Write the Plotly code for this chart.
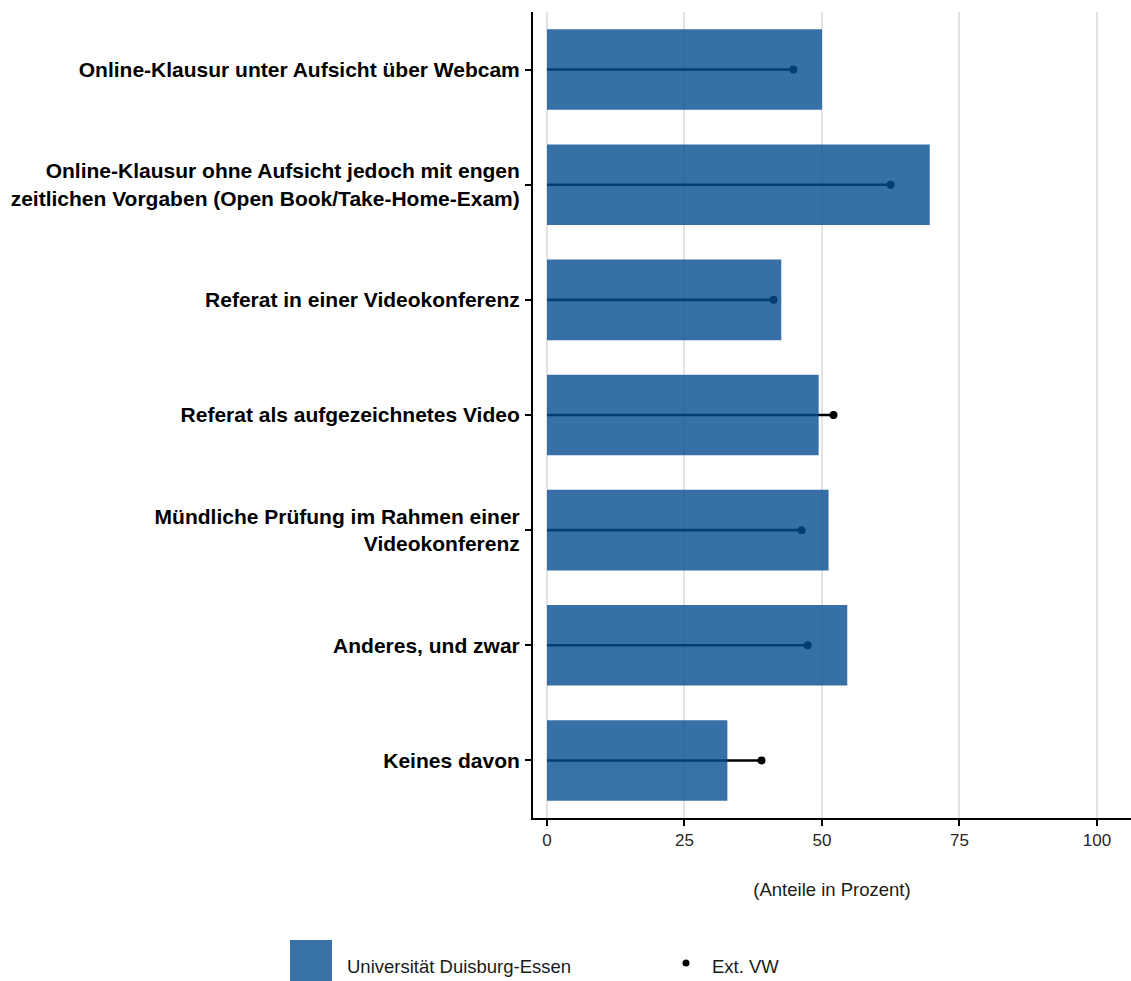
import plotly.graph_objects as go

categories = [
    "Online-Klausur unter Aufsicht über Webcam",
    "Online-Klausur ohne Aufsicht jedoch mit engen<br>zeitlichen Vorgaben (Open Book/Take-Home-Exam)",
    "Referat in einer Videokonferenz",
    "Referat als aufgezeichnetes Video",
    "Mündliche Prüfung im Rahmen einer<br>Videokonferenz",
    "Anderes, und zwar",
    "Keines davon",
]
ude_values = [50.0, 69.6, 42.6, 49.4, 51.2, 54.6, 32.8]
ext_values = [44.8, 62.5, 41.2, 52.1, 46.3, 47.4, 39.0]
x_ticks = [0, 25, 50, 75, 100]

W, H = 1131, 981
PL, PR, PT, PB = 533, 1131, 12, 818  # plot area in page pixels
ML, MT, MR, MB = PL, PT, W - PR, H - PB
plot_h = PB - PT
plot_w = PR - PL

def py(p):
    return (PB - p) / plot_h

def pxx(p):
    return (p - PL) / plot_w

lx, ly = [], []
for c, v in zip(categories, ext_values):
    lx += [0, v, None]
    ly += [c, c, None]

fig = go.Figure()
fig.add_trace(go.Scatter(x=lx, y=ly, mode="lines", line=dict(color="black", width=2.6),
                         showlegend=False, hoverinfo="skip", xaxis="x", yaxis="y"))
fig.add_trace(go.Scatter(x=ext_values, y=categories, mode="markers",
                         marker=dict(color="black", size=8), showlegend=False,
                         xaxis="x", yaxis="y"))
fig.add_trace(go.Bar(x=ude_values, y=categories, orientation="h", width=0.7,
                     marker=dict(color="rgb(6,76,146)", line=dict(width=0)),
                     opacity=0.8, showlegend=False, xaxis="x2", yaxis="y2"))

xr = [-2.55, 106.2]
fig.update_layout(
    width=W, height=H,
    margin=dict(l=ML, r=MR, t=MT, b=MB),
    paper_bgcolor="white", plot_bgcolor="white",
    font=dict(family="Liberation Sans, Arial, sans-serif", color="black"),
    showlegend=False,
    xaxis=dict(range=xr, tickvals=x_ticks, showgrid=True, gridcolor="#e3e3e3", gridwidth=1.6,
               zeroline=False, showline=True, linecolor="black", linewidth=2,
               ticks="outside", ticklen=6, tickwidth=1.6, tickcolor="black",
               tickfont=dict(size=17, color="#262626"),
               title=dict(text="(Anteile in Prozent)", font=dict(size=18.5, color="#1a1a1a"), standoff=34)),
    yaxis=dict(categoryorder="array", categoryarray=categories, range=[6.5, -0.5],
               showgrid=False, zeroline=False, showline=True, linecolor="black", linewidth=2,
               ticks="outside", ticklen=6, tickwidth=1.6, tickcolor="black",
               ticklabelstandoff=1,
               tickfont=dict(size=21, color="black", family="Liberation Sans, Arial, sans-serif", weight="bold")),
    xaxis2=dict(overlaying="x", matches="x", range=xr, visible=False, showgrid=False),
    yaxis2=dict(overlaying="y", matches="y", visible=False, showgrid=False,
                categoryorder="array", categoryarray=categories, range=[6.5, -0.5]),
)

fig.add_shape(type="rect", xref="paper", yref="paper",
              x0=pxx(290), x1=pxx(332), y0=py(940), y1=py(990),
              fillcolor="rgb(56,112,168)", line=dict(width=0))
fig.add_annotation(x=pxx(345), y=py(966), xref="paper", yref="paper",
                   text="Universität Duisburg-Essen", showarrow=False,
                   xanchor="left", yanchor="middle",
                   font=dict(size=18.5, color="#1a1a1a"))
fig.add_shape(type="circle", xref="paper", yref="paper",
              x0=pxx(682.5), x1=pxx(689.5), y0=py(959.5), y1=py(966.5),
              fillcolor="black", line=dict(width=0))
fig.add_annotation(x=pxx(710), y=py(966), xref="paper", yref="paper",
                   text="Ext. VW", showarrow=False,
                   xanchor="left", yanchor="middle",
                   font=dict(size=18.5, color="#1a1a1a"))

fig.write_html("out.html", config={"displayModeBar": False},
               post_script="document.body.style.margin='0';document.body.style.overflow='hidden';")
